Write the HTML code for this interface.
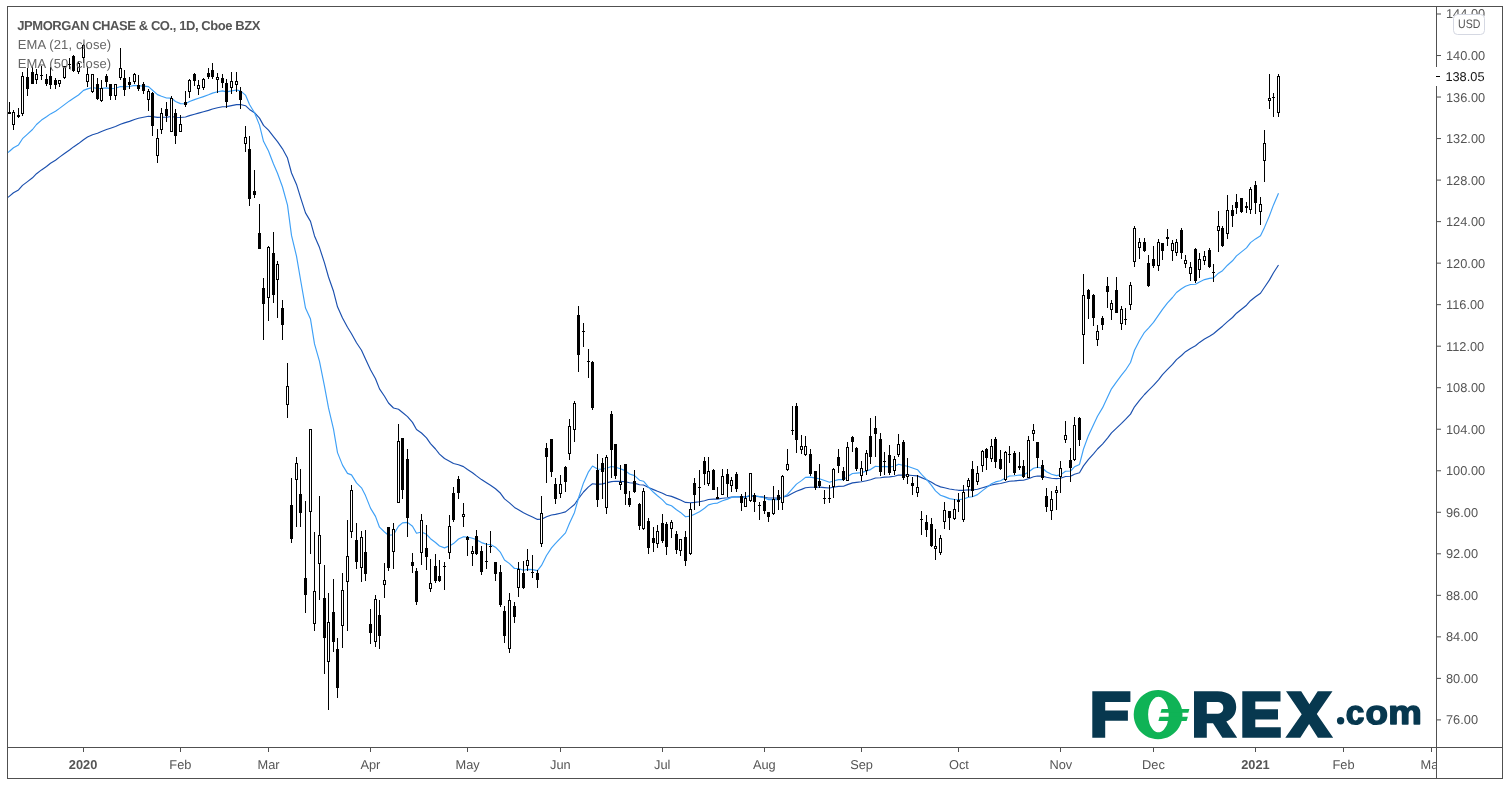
<!DOCTYPE html><html><head><meta charset="utf-8"><title>JPM chart</title><style>
html,body{margin:0;padding:0;background:#fff;}body{width:1510px;height:785px;overflow:hidden;position:relative;font-family:"Liberation Sans",sans-serif;}
svg{position:absolute;left:0;top:0;}text{font-family:"Liberation Sans",sans-serif;text-rendering:geometricPrecision;}
</style></head><body>
<svg width="1510" height="785" viewBox="0 0 1510 785" style="will-change:transform">
<rect x="0" y="0" width="1510" height="785" fill="#fff"/>
<path d="M8.0 197.4 L9.5 196.1 L13.5 192.8 L18.5 189.9 L22.5 185.4 L27.5 181.6 L32.5 177.8 L36.5 173.7 L41.5 169.9 L46.5 166.5 L50.5 163.3 L55.5 160.2 L59.5 157.1 L64.5 153.5 L69.5 150.0 L73.5 146.9 L78.5 143.6 L83.5 139.7 L87.5 137.1 L92.5 134.7 L97.5 133.3 L101.5 131.5 L106.5 129.5 L110.5 128.2 L115.5 126.5 L120.5 124.2 L124.5 122.9 L129.5 121.4 L134.5 119.5 L138.5 118.3 L143.5 117.2 L148.5 116.2 L152.5 116.6 L157.5 117.4 L161.5 117.3 L166.5 117.2 L171.5 116.5 L175.5 117.2 L180.5 117.5 L185.5 117.0 L189.5 115.6 L194.5 114.2 L198.5 113.1 L203.5 111.7 L208.5 110.4 L212.5 109.0 L217.5 107.8 L222.5 106.8 L226.5 106.6 L231.5 105.6 L236.5 104.6 L240.5 104.5 L245.5 105.7 L249.5 109.4 L254.5 112.7 L259.5 118.1 L263.5 125.4 L268.5 130.1 L273.5 136.6 L277.5 141.6 L282.5 148.8 L287.5 158.1 L291.5 173.0 L296.5 184.4 L300.5 197.3 L305.5 212.9 L310.5 221.4 L314.5 235.9 L319.5 247.6 L324.5 262.9 L328.5 277.0 L333.5 291.3 L337.5 306.8 L342.5 318.0 L347.5 327.3 L351.5 333.7 L356.5 342.7 L361.5 350.3 L365.5 359.0 L370.5 369.8 L375.5 378.8 L379.5 388.9 L384.5 396.3 L388.5 403.0 L393.5 408.0 L398.5 409.3 L402.5 412.5 L407.5 416.6 L412.5 422.4 L416.5 429.5 L421.5 433.0 L426.5 437.9 L430.5 443.6 L435.5 449.0 L439.5 454.1 L444.5 458.5 L449.5 461.2 L453.5 463.5 L458.5 464.7 L463.5 466.6 L467.5 469.5 L472.5 472.7 L476.5 475.9 L481.5 479.6 L486.5 482.8 L490.5 485.3 L495.5 488.8 L500.5 493.3 L504.5 498.9 L509.5 502.9 L514.5 507.4 L518.5 509.8 L523.5 512.8 L527.5 514.7 L532.5 517.0 L537.5 519.4 L541.5 519.2 L546.5 516.8 L551.5 515.0 L555.5 514.4 L560.5 513.2 L565.5 511.9 L569.5 508.6 L574.5 504.5 L578.5 498.6 L583.5 492.0 L588.5 486.9 L592.5 483.8 L597.5 484.4 L602.5 483.9 L606.5 482.9 L611.5 481.6 L615.5 481.3 L620.5 481.4 L625.5 481.8 L629.5 482.7 L634.5 483.1 L639.5 484.8 L643.5 485.0 L648.5 487.5 L653.5 489.6 L657.5 491.3 L662.5 493.2 L666.5 495.3 L671.5 496.4 L676.5 498.4 L680.5 500.0 L685.5 502.4 L690.5 502.7 L694.5 502.4 L699.5 501.8 L704.5 500.7 L708.5 499.5 L713.5 499.1 L717.5 499.1 L722.5 498.2 L727.5 497.7 L731.5 497.0 L736.5 496.7 L741.5 496.9 L745.5 496.9 L750.5 496.0 L754.5 496.3 L759.5 496.6 L764.5 497.2 L768.5 498.0 L773.5 498.0 L778.5 498.1 L782.5 497.2 L787.5 495.9 L792.5 493.3 L796.5 491.2 L801.5 489.4 L805.5 487.7 L810.5 487.2 L815.5 487.2 L819.5 487.1 L824.5 487.6 L829.5 488.0 L833.5 487.3 L838.5 486.4 L843.5 486.2 L847.5 484.6 L852.5 482.9 L856.5 482.4 L861.5 481.8 L866.5 480.7 L870.5 479.8 L875.5 478.0 L880.5 477.7 L884.5 477.1 L889.5 476.9 L894.5 476.3 L898.5 475.0 L903.5 475.1 L907.5 475.0 L912.5 475.5 L917.5 475.9 L921.5 477.6 L926.5 479.7 L931.5 482.3 L935.5 484.8 L940.5 486.9 L944.5 487.8 L949.5 489.0 L954.5 489.8 L958.5 490.3 L963.5 490.3 L968.5 489.9 L972.5 490.0 L977.5 489.3 L982.5 487.8 L986.5 486.6 L991.5 485.0 L995.5 484.1 L1000.5 483.5 L1005.5 482.3 L1009.5 481.2 L1014.5 480.9 L1019.5 480.4 L1023.5 480.2 L1028.5 478.7 L1033.5 476.8 L1037.5 476.0 L1042.5 476.1 L1046.5 477.3 L1051.5 478.2 L1056.5 478.6 L1060.5 478.2 L1065.5 476.5 L1070.5 476.2 L1074.5 474.2 L1079.5 472.8 L1083.5 465.9 L1088.5 459.3 L1093.5 453.8 L1097.5 449.0 L1102.5 444.1 L1107.5 438.1 L1111.5 432.8 L1116.5 428.1 L1121.5 423.4 L1125.5 419.4 L1130.5 414.1 L1134.5 406.8 L1139.5 400.4 L1144.5 394.5 L1148.5 390.3 L1153.5 385.4 L1158.5 379.8 L1162.5 374.7 L1167.5 369.4 L1172.5 364.4 L1176.5 359.6 L1181.5 355.5 L1185.5 351.7 L1190.5 348.4 L1195.5 345.8 L1199.5 342.4 L1204.5 339.0 L1209.5 336.2 L1213.5 333.7 L1218.5 329.5 L1222.5 326.2 L1227.5 321.6 L1232.5 317.5 L1236.5 313.2 L1241.5 309.2 L1246.5 305.2 L1250.5 300.7 L1255.5 296.8 L1260.5 293.2 L1264.5 287.3 L1269.5 279.9 L1273.5 272.7 L1278.5 265.0" fill="none" stroke="#1a4fae" stroke-width="1.15" stroke-linejoin="round"/>
<path d="M8.0 152.6 L9.5 151.2 L13.5 147.7 L18.5 144.9 L22.5 138.7 L27.5 134.1 L32.5 129.5 L36.5 124.5 L41.5 120.1 L46.5 116.8 L50.5 113.9 L55.5 111.2 L59.5 108.4 L64.5 104.6 L69.5 100.9 L73.5 98.2 L78.5 95.0 L83.5 90.4 L87.5 88.9 L92.5 87.5 L97.5 88.5 L101.5 88.4 L106.5 87.9 L110.5 88.6 L115.5 88.3 L120.5 86.5 L124.5 86.7 L129.5 86.5 L134.5 85.4 L138.5 85.7 L143.5 86.1 L148.5 86.6 L152.5 90.2 L157.5 94.6 L161.5 96.3 L166.5 98.0 L171.5 98.1 L175.5 101.5 L180.5 103.6 L185.5 103.7 L189.5 101.5 L194.5 99.6 L198.5 98.3 L203.5 96.6 L208.5 94.8 L212.5 93.1 L217.5 91.7 L222.5 90.9 L226.5 91.9 L231.5 90.9 L236.5 90.0 L240.5 90.9 L245.5 95.1 L249.5 104.5 L254.5 112.7 L259.5 125.1 L263.5 141.3 L268.5 151.0 L273.5 164.0 L277.5 173.2 L282.5 187.0 L287.5 205.1 L291.5 235.4 L296.5 256.2 L300.5 279.5 L305.5 308.1 L310.5 319.1 L314.5 343.9 L319.5 361.3 L324.5 386.4 L328.5 407.9 L333.5 429.1 L337.5 452.6 L342.5 465.1 L347.5 473.4 L351.5 474.9 L356.5 482.9 L361.5 487.8 L365.5 495.6 L370.5 508.1 L375.5 516.4 L379.5 527.2 L384.5 532.0 L388.5 535.2 L393.5 534.7 L398.5 526.2 L402.5 522.9 L407.5 522.4 L412.5 526.3 L416.5 533.2 L421.5 532.0 L426.5 534.3 L430.5 538.7 L435.5 542.5 L439.5 546.0 L444.5 547.9 L449.5 545.9 L453.5 543.6 L458.5 539.0 L463.5 536.7 L467.5 537.0 L472.5 538.3 L476.5 539.7 L481.5 542.6 L486.5 544.3 L490.5 544.5 L495.5 547.2 L500.5 552.4 L504.5 560.0 L509.5 563.6 L514.5 568.5 L518.5 568.5 L523.5 570.3 L527.5 569.4 L532.5 569.6 L537.5 570.6 L541.5 565.4 L546.5 555.5 L551.5 547.9 L555.5 543.4 L560.5 538.1 L565.5 532.9 L569.5 523.3 L574.5 512.4 L578.5 498.0 L583.5 482.9 L588.5 471.8 L592.5 466.0 L597.5 469.0 L602.5 469.3 L606.5 468.2 L611.5 466.5 L615.5 467.3 L620.5 468.7 L625.5 470.9 L629.5 474.0 L634.5 475.6 L639.5 480.2 L643.5 481.2 L648.5 487.2 L653.5 492.3 L657.5 495.8 L662.5 499.9 L666.5 504.1 L671.5 505.8 L676.5 509.8 L680.5 512.4 L685.5 516.8 L690.5 516.1 L694.5 514.2 L699.5 511.8 L704.5 508.3 L708.5 504.9 L713.5 503.5 L717.5 503.1 L722.5 500.7 L727.5 499.1 L731.5 497.4 L736.5 496.6 L741.5 497.2 L745.5 497.3 L750.5 495.1 L754.5 495.7 L759.5 496.6 L764.5 497.9 L768.5 499.6 L773.5 499.6 L778.5 499.6 L782.5 497.5 L787.5 494.4 L792.5 488.6 L796.5 484.1 L801.5 480.6 L805.5 477.4 L810.5 477.1 L815.5 478.1 L819.5 478.8 L824.5 480.5 L829.5 482.2 L833.5 481.0 L838.5 479.6 L843.5 479.6 L847.5 476.6 L852.5 473.5 L856.5 473.1 L861.5 472.6 L866.5 470.9 L870.5 469.6 L875.5 466.3 L880.5 466.8 L884.5 466.4 L889.5 467.0 L894.5 466.3 L898.5 464.3 L903.5 465.5 L907.5 466.2 L912.5 468.0 L917.5 469.7 L921.5 474.3 L926.5 479.3 L931.5 485.3 L935.5 490.9 L940.5 495.2 L944.5 496.6 L949.5 498.6 L954.5 499.5 L958.5 499.7 L963.5 499.0 L968.5 497.3 L972.5 496.7 L977.5 494.6 L982.5 490.6 L986.5 487.6 L991.5 483.8 L995.5 481.9 L1000.5 480.7 L1005.5 478.1 L1009.5 476.0 L1014.5 475.7 L1019.5 475.0 L1023.5 475.1 L1028.5 472.0 L1033.5 468.2 L1037.5 467.2 L1042.5 468.2 L1046.5 471.7 L1051.5 474.2 L1056.5 475.6 L1060.5 474.9 L1065.5 471.3 L1070.5 471.0 L1074.5 466.8 L1079.5 464.4 L1083.5 449.0 L1088.5 435.4 L1093.5 424.7 L1097.5 416.2 L1102.5 407.9 L1107.5 397.3 L1111.5 388.8 L1116.5 381.8 L1121.5 375.2 L1125.5 370.2 L1130.5 362.5 L1134.5 350.3 L1139.5 340.5 L1144.5 332.3 L1148.5 328.1 L1153.5 322.4 L1158.5 315.1 L1162.5 309.3 L1167.5 302.9 L1172.5 297.5 L1176.5 292.5 L1181.5 288.8 L1185.5 286.3 L1190.5 284.5 L1195.5 284.2 L1199.5 281.9 L1204.5 279.6 L1209.5 278.4 L1213.5 277.9 L1218.5 273.2 L1222.5 270.7 L1227.5 265.2 L1232.5 260.8 L1236.5 255.9 L1241.5 251.9 L1246.5 247.9 L1250.5 242.6 L1255.5 238.9 L1260.5 235.8 L1264.5 227.4 L1269.5 215.6 L1273.5 204.9 L1278.5 193.2" fill="none" stroke="#3ea0f6" stroke-width="1.15" stroke-linejoin="round"/>
<g id="candles" shape-rendering="crispEdges" fill="#000">
<rect x="9" y="102" width="1" height="12"/>
<rect x="8" y="112" width="3" height="2"/>
<rect x="13" y="110" width="1" height="20"/>
<rect x="12" y="112" width="3" height="13"/>
<rect x="13" y="113" width="1" height="11" fill="#fff"/>
<rect x="18" y="108" width="1" height="10"/>
<rect x="17" y="115" width="3" height="2"/>
<rect x="22" y="72" width="1" height="44"/>
<rect x="21" y="76" width="3" height="38"/>
<rect x="22" y="77" width="1" height="36" fill="#fff"/>
<rect x="27" y="68" width="1" height="28"/>
<rect x="26" y="77" width="3" height="12"/>
<rect x="32" y="67" width="1" height="17"/>
<rect x="31" y="72" width="3" height="12"/>
<rect x="36" y="69" width="1" height="15"/>
<rect x="35" y="74" width="3" height="6"/>
<rect x="36" y="75" width="1" height="4" fill="#fff"/>
<rect x="41" y="66" width="1" height="14"/>
<rect x="40" y="75" width="3" height="1"/>
<rect x="46" y="74" width="1" height="12"/>
<rect x="45" y="79" width="3" height="5"/>
<rect x="50" y="67" width="1" height="22"/>
<rect x="49" y="76" width="3" height="9"/>
<rect x="55" y="78" width="1" height="11"/>
<rect x="54" y="80" width="3" height="5"/>
<rect x="59" y="80" width="1" height="7"/>
<rect x="58" y="80" width="3" height="4"/>
<rect x="59" y="81" width="1" height="2" fill="#fff"/>
<rect x="64" y="66" width="1" height="13"/>
<rect x="63" y="66" width="3" height="12"/>
<rect x="64" y="67" width="1" height="10" fill="#fff"/>
<rect x="69" y="58" width="1" height="11"/>
<rect x="68" y="64" width="3" height="1"/>
<rect x="73" y="55" width="1" height="17"/>
<rect x="72" y="56" width="3" height="15"/>
<rect x="78" y="61" width="1" height="13"/>
<rect x="77" y="63" width="3" height="9"/>
<rect x="78" y="64" width="1" height="7" fill="#fff"/>
<rect x="83" y="44" width="1" height="19"/>
<rect x="82" y="45" width="3" height="13"/>
<rect x="83" y="46" width="1" height="11" fill="#fff"/>
<rect x="87" y="66" width="1" height="21"/>
<rect x="86" y="74" width="3" height="8"/>
<rect x="87" y="75" width="1" height="6" fill="#fff"/>
<rect x="92" y="74" width="1" height="19"/>
<rect x="91" y="74" width="3" height="18"/>
<rect x="92" y="75" width="1" height="16" fill="#fff"/>
<rect x="97" y="78" width="1" height="22"/>
<rect x="96" y="84" width="3" height="15"/>
<rect x="101" y="80" width="1" height="22"/>
<rect x="100" y="88" width="3" height="13"/>
<rect x="101" y="89" width="1" height="11" fill="#fff"/>
<rect x="106" y="74" width="1" height="13"/>
<rect x="105" y="76" width="3" height="6"/>
<rect x="110" y="84" width="1" height="16"/>
<rect x="109" y="84" width="3" height="12"/>
<rect x="115" y="84" width="1" height="16"/>
<rect x="114" y="84" width="3" height="12"/>
<rect x="115" y="85" width="1" height="10" fill="#fff"/>
<rect x="120" y="48" width="1" height="32"/>
<rect x="119" y="68" width="3" height="10"/>
<rect x="120" y="69" width="1" height="8" fill="#fff"/>
<rect x="124" y="70" width="1" height="26"/>
<rect x="123" y="78" width="3" height="12"/>
<rect x="129" y="77" width="1" height="12"/>
<rect x="128" y="82" width="3" height="3"/>
<rect x="134" y="73" width="1" height="11"/>
<rect x="133" y="74" width="3" height="8"/>
<rect x="134" y="75" width="1" height="6" fill="#fff"/>
<rect x="138" y="75" width="1" height="16"/>
<rect x="137" y="85" width="3" height="4"/>
<rect x="143" y="82" width="1" height="12"/>
<rect x="142" y="84" width="3" height="7"/>
<rect x="148" y="89" width="1" height="22"/>
<rect x="147" y="91" width="3" height="9"/>
<rect x="148" y="92" width="1" height="7" fill="#fff"/>
<rect x="152" y="92" width="1" height="44"/>
<rect x="151" y="93" width="3" height="33"/>
<rect x="157" y="129" width="1" height="34"/>
<rect x="156" y="138" width="3" height="18"/>
<rect x="157" y="139" width="1" height="16" fill="#fff"/>
<rect x="161" y="108" width="1" height="26"/>
<rect x="160" y="113" width="3" height="17"/>
<rect x="161" y="114" width="1" height="15" fill="#fff"/>
<rect x="166" y="102" width="1" height="20"/>
<rect x="165" y="109" width="3" height="7"/>
<rect x="171" y="96" width="1" height="36"/>
<rect x="170" y="98" width="3" height="34"/>
<rect x="171" y="99" width="1" height="32" fill="#fff"/>
<rect x="175" y="109" width="1" height="35"/>
<rect x="174" y="113" width="3" height="23"/>
<rect x="180" y="115" width="1" height="17"/>
<rect x="179" y="124" width="3" height="8"/>
<rect x="180" y="125" width="1" height="6" fill="#fff"/>
<rect x="185" y="91" width="1" height="16"/>
<rect x="184" y="102" width="3" height="3"/>
<rect x="189" y="79" width="1" height="19"/>
<rect x="188" y="80" width="3" height="12"/>
<rect x="189" y="81" width="1" height="10" fill="#fff"/>
<rect x="194" y="73" width="1" height="13"/>
<rect x="193" y="74" width="3" height="7"/>
<rect x="198" y="80" width="1" height="15"/>
<rect x="197" y="85" width="3" height="4"/>
<rect x="198" y="86" width="1" height="2" fill="#fff"/>
<rect x="203" y="78" width="1" height="12"/>
<rect x="202" y="79" width="3" height="9"/>
<rect x="203" y="80" width="1" height="7" fill="#fff"/>
<rect x="208" y="68" width="1" height="11"/>
<rect x="207" y="73" width="3" height="4"/>
<rect x="212" y="63" width="1" height="16"/>
<rect x="211" y="70" width="3" height="7"/>
<rect x="217" y="73" width="1" height="20"/>
<rect x="216" y="77" width="3" height="3"/>
<rect x="217" y="78" width="1" height="1" fill="#fff"/>
<rect x="222" y="74" width="1" height="14"/>
<rect x="221" y="78" width="3" height="5"/>
<rect x="226" y="79" width="1" height="29"/>
<rect x="225" y="83" width="3" height="19"/>
<rect x="231" y="72" width="1" height="22"/>
<rect x="230" y="81" width="3" height="7"/>
<rect x="231" y="82" width="1" height="5" fill="#fff"/>
<rect x="236" y="72" width="1" height="20"/>
<rect x="235" y="81" width="3" height="4"/>
<rect x="236" y="82" width="1" height="2" fill="#fff"/>
<rect x="240" y="87" width="1" height="22"/>
<rect x="239" y="91" width="3" height="9"/>
<rect x="245" y="126" width="1" height="26"/>
<rect x="244" y="137" width="3" height="7"/>
<rect x="245" y="138" width="1" height="5" fill="#fff"/>
<rect x="249" y="136" width="1" height="70"/>
<rect x="248" y="149" width="3" height="50"/>
<rect x="254" y="170" width="1" height="28"/>
<rect x="253" y="191" width="3" height="4"/>
<rect x="259" y="204" width="1" height="45"/>
<rect x="258" y="233" width="3" height="16"/>
<rect x="263" y="278" width="1" height="62"/>
<rect x="262" y="288" width="3" height="16"/>
<rect x="268" y="246" width="1" height="75"/>
<rect x="267" y="247" width="3" height="51"/>
<rect x="268" y="248" width="1" height="49" fill="#fff"/>
<rect x="273" y="232" width="1" height="71"/>
<rect x="272" y="253" width="3" height="42"/>
<rect x="277" y="261" width="1" height="57"/>
<rect x="276" y="264" width="3" height="16"/>
<rect x="277" y="265" width="1" height="14" fill="#fff"/>
<rect x="282" y="300" width="1" height="40"/>
<rect x="281" y="308" width="3" height="17"/>
<rect x="287" y="363" width="1" height="55"/>
<rect x="286" y="386" width="3" height="19"/>
<rect x="287" y="387" width="1" height="17" fill="#fff"/>
<rect x="291" y="478" width="1" height="65"/>
<rect x="290" y="505" width="3" height="34"/>
<rect x="296" y="457" width="1" height="70"/>
<rect x="295" y="463" width="3" height="17"/>
<rect x="296" y="464" width="1" height="15" fill="#fff"/>
<rect x="300" y="469" width="1" height="58"/>
<rect x="299" y="494" width="3" height="19"/>
<rect x="305" y="501" width="1" height="112"/>
<rect x="304" y="578" width="3" height="17"/>
<rect x="310" y="429" width="1" height="125"/>
<rect x="309" y="429" width="3" height="83"/>
<rect x="310" y="430" width="1" height="81" fill="#fff"/>
<rect x="314" y="532" width="1" height="99"/>
<rect x="313" y="591" width="3" height="33"/>
<rect x="314" y="592" width="1" height="31" fill="#fff"/>
<rect x="319" y="496" width="1" height="104"/>
<rect x="318" y="535" width="3" height="29"/>
<rect x="319" y="536" width="1" height="27" fill="#fff"/>
<rect x="324" y="565" width="1" height="109"/>
<rect x="323" y="598" width="3" height="40"/>
<rect x="328" y="593" width="1" height="117"/>
<rect x="327" y="622" width="3" height="40"/>
<rect x="328" y="623" width="1" height="38" fill="#fff"/>
<rect x="333" y="579" width="1" height="73"/>
<rect x="332" y="612" width="3" height="30"/>
<rect x="337" y="638" width="1" height="60"/>
<rect x="336" y="649" width="3" height="39"/>
<rect x="342" y="573" width="1" height="75"/>
<rect x="341" y="590" width="3" height="36"/>
<rect x="342" y="591" width="1" height="34" fill="#fff"/>
<rect x="347" y="520" width="1" height="111"/>
<rect x="346" y="556" width="3" height="26"/>
<rect x="347" y="557" width="1" height="24" fill="#fff"/>
<rect x="351" y="485" width="1" height="53"/>
<rect x="350" y="490" width="3" height="42"/>
<rect x="351" y="491" width="1" height="40" fill="#fff"/>
<rect x="356" y="523" width="1" height="46"/>
<rect x="355" y="540" width="3" height="22"/>
<rect x="361" y="531" width="1" height="51"/>
<rect x="360" y="537" width="3" height="31"/>
<rect x="361" y="538" width="1" height="29" fill="#fff"/>
<rect x="365" y="530" width="1" height="51"/>
<rect x="364" y="552" width="3" height="22"/>
<rect x="370" y="609" width="1" height="35"/>
<rect x="369" y="624" width="3" height="9"/>
<rect x="375" y="595" width="1" height="52"/>
<rect x="374" y="599" width="3" height="43"/>
<rect x="375" y="600" width="1" height="41" fill="#fff"/>
<rect x="379" y="600" width="1" height="49"/>
<rect x="378" y="615" width="3" height="21"/>
<rect x="384" y="563" width="1" height="35"/>
<rect x="383" y="580" width="3" height="5"/>
<rect x="384" y="581" width="1" height="3" fill="#fff"/>
<rect x="388" y="527" width="1" height="44"/>
<rect x="387" y="527" width="3" height="41"/>
<rect x="393" y="523" width="1" height="46"/>
<rect x="392" y="529" width="3" height="23"/>
<rect x="393" y="530" width="1" height="21" fill="#fff"/>
<rect x="398" y="424" width="1" height="79"/>
<rect x="397" y="441" width="3" height="62"/>
<rect x="398" y="442" width="1" height="60" fill="#fff"/>
<rect x="402" y="438" width="1" height="61"/>
<rect x="401" y="438" width="3" height="52"/>
<rect x="407" y="449" width="1" height="88"/>
<rect x="406" y="459" width="3" height="59"/>
<rect x="412" y="553" width="1" height="20"/>
<rect x="411" y="562" width="3" height="4"/>
<rect x="416" y="568" width="1" height="37"/>
<rect x="415" y="571" width="3" height="31"/>
<rect x="421" y="514" width="1" height="51"/>
<rect x="420" y="520" width="3" height="33"/>
<rect x="421" y="521" width="1" height="31" fill="#fff"/>
<rect x="426" y="525" width="1" height="45"/>
<rect x="425" y="548" width="3" height="9"/>
<rect x="430" y="559" width="1" height="33"/>
<rect x="429" y="583" width="3" height="6"/>
<rect x="430" y="584" width="1" height="4" fill="#fff"/>
<rect x="435" y="554" width="1" height="29"/>
<rect x="434" y="566" width="3" height="15"/>
<rect x="439" y="560" width="1" height="22"/>
<rect x="438" y="576" width="3" height="5"/>
<rect x="444" y="562" width="1" height="28"/>
<rect x="443" y="566" width="3" height="1"/>
<rect x="449" y="515" width="1" height="44"/>
<rect x="448" y="526" width="3" height="27"/>
<rect x="449" y="527" width="1" height="25" fill="#fff"/>
<rect x="453" y="487" width="1" height="35"/>
<rect x="452" y="493" width="3" height="27"/>
<rect x="458" y="476" width="1" height="23"/>
<rect x="457" y="479" width="3" height="14"/>
<rect x="463" y="503" width="1" height="24"/>
<rect x="462" y="514" width="3" height="3"/>
<rect x="463" y="515" width="1" height="1" fill="#fff"/>
<rect x="467" y="536" width="1" height="20"/>
<rect x="466" y="537" width="3" height="3"/>
<rect x="472" y="546" width="1" height="20"/>
<rect x="471" y="551" width="3" height="3"/>
<rect x="472" y="552" width="1" height="1" fill="#fff"/>
<rect x="476" y="530" width="1" height="25"/>
<rect x="475" y="536" width="3" height="18"/>
<rect x="481" y="546" width="1" height="29"/>
<rect x="480" y="551" width="3" height="21"/>
<rect x="486" y="543" width="1" height="26"/>
<rect x="485" y="561" width="3" height="1"/>
<rect x="490" y="531" width="1" height="22"/>
<rect x="489" y="546" width="3" height="1"/>
<rect x="495" y="562" width="1" height="19"/>
<rect x="494" y="562" width="3" height="12"/>
<rect x="500" y="565" width="1" height="42"/>
<rect x="499" y="572" width="3" height="33"/>
<rect x="504" y="606" width="1" height="37"/>
<rect x="503" y="611" width="3" height="25"/>
<rect x="509" y="593" width="1" height="60"/>
<rect x="508" y="600" width="3" height="49"/>
<rect x="509" y="601" width="1" height="47" fill="#fff"/>
<rect x="514" y="602" width="1" height="21"/>
<rect x="513" y="606" width="3" height="11"/>
<rect x="518" y="562" width="1" height="35"/>
<rect x="517" y="569" width="3" height="19"/>
<rect x="518" y="570" width="1" height="17" fill="#fff"/>
<rect x="523" y="561" width="1" height="28"/>
<rect x="522" y="573" width="3" height="15"/>
<rect x="527" y="549" width="1" height="22"/>
<rect x="526" y="560" width="3" height="6"/>
<rect x="527" y="561" width="1" height="4" fill="#fff"/>
<rect x="532" y="555" width="1" height="23"/>
<rect x="531" y="572" width="3" height="1"/>
<rect x="537" y="570" width="1" height="18"/>
<rect x="536" y="573" width="3" height="7"/>
<rect x="541" y="496" width="1" height="51"/>
<rect x="540" y="513" width="3" height="31"/>
<rect x="541" y="514" width="1" height="29" fill="#fff"/>
<rect x="546" y="443" width="1" height="40"/>
<rect x="545" y="448" width="3" height="9"/>
<rect x="551" y="439" width="1" height="38"/>
<rect x="550" y="439" width="3" height="33"/>
<rect x="555" y="478" width="1" height="26"/>
<rect x="554" y="484" width="3" height="15"/>
<rect x="560" y="475" width="1" height="23"/>
<rect x="559" y="484" width="3" height="10"/>
<rect x="560" y="485" width="1" height="8" fill="#fff"/>
<rect x="565" y="466" width="1" height="26"/>
<rect x="564" y="467" width="3" height="15"/>
<rect x="569" y="419" width="1" height="41"/>
<rect x="568" y="426" width="3" height="28"/>
<rect x="569" y="427" width="1" height="26" fill="#fff"/>
<rect x="574" y="401" width="1" height="41"/>
<rect x="573" y="403" width="3" height="27"/>
<rect x="574" y="404" width="1" height="25" fill="#fff"/>
<rect x="578" y="306" width="1" height="66"/>
<rect x="577" y="315" width="3" height="40"/>
<rect x="583" y="323" width="1" height="24"/>
<rect x="582" y="331" width="3" height="1"/>
<rect x="588" y="349" width="1" height="29"/>
<rect x="587" y="361" width="3" height="1"/>
<rect x="592" y="361" width="1" height="49"/>
<rect x="591" y="362" width="3" height="46"/>
<rect x="597" y="454" width="1" height="53"/>
<rect x="596" y="470" width="3" height="30"/>
<rect x="602" y="458" width="1" height="41"/>
<rect x="601" y="463" width="3" height="9"/>
<rect x="606" y="455" width="1" height="59"/>
<rect x="605" y="457" width="3" height="51"/>
<rect x="606" y="458" width="1" height="49" fill="#fff"/>
<rect x="611" y="411" width="1" height="67"/>
<rect x="610" y="414" width="3" height="36"/>
<rect x="615" y="444" width="1" height="35"/>
<rect x="614" y="444" width="3" height="32"/>
<rect x="620" y="465" width="1" height="25"/>
<rect x="619" y="482" width="3" height="3"/>
<rect x="620" y="483" width="1" height="1" fill="#fff"/>
<rect x="625" y="464" width="1" height="41"/>
<rect x="624" y="464" width="3" height="30"/>
<rect x="629" y="491" width="1" height="16"/>
<rect x="628" y="498" width="3" height="7"/>
<rect x="634" y="470" width="1" height="23"/>
<rect x="633" y="481" width="3" height="11"/>
<rect x="639" y="503" width="1" height="27"/>
<rect x="638" y="504" width="3" height="22"/>
<rect x="643" y="488" width="1" height="42"/>
<rect x="642" y="491" width="3" height="38"/>
<rect x="643" y="492" width="1" height="36" fill="#fff"/>
<rect x="648" y="518" width="1" height="36"/>
<rect x="647" y="521" width="3" height="27"/>
<rect x="653" y="527" width="1" height="25"/>
<rect x="652" y="538" width="3" height="5"/>
<rect x="657" y="525" width="1" height="23"/>
<rect x="656" y="531" width="3" height="13"/>
<rect x="657" y="532" width="1" height="11" fill="#fff"/>
<rect x="662" y="514" width="1" height="29"/>
<rect x="661" y="523" width="3" height="18"/>
<rect x="666" y="522" width="1" height="33"/>
<rect x="665" y="524" width="3" height="23"/>
<rect x="671" y="520" width="1" height="18"/>
<rect x="670" y="522" width="3" height="7"/>
<rect x="671" y="523" width="1" height="5" fill="#fff"/>
<rect x="676" y="531" width="1" height="23"/>
<rect x="675" y="534" width="3" height="16"/>
<rect x="680" y="539" width="1" height="17"/>
<rect x="679" y="539" width="3" height="12"/>
<rect x="680" y="540" width="1" height="10" fill="#fff"/>
<rect x="685" y="531" width="1" height="35"/>
<rect x="684" y="537" width="3" height="24"/>
<rect x="690" y="503" width="1" height="52"/>
<rect x="689" y="509" width="3" height="45"/>
<rect x="690" y="510" width="1" height="43" fill="#fff"/>
<rect x="694" y="478" width="1" height="32"/>
<rect x="693" y="483" width="3" height="12"/>
<rect x="699" y="470" width="1" height="36"/>
<rect x="698" y="487" width="3" height="1"/>
<rect x="704" y="457" width="1" height="28"/>
<rect x="703" y="461" width="3" height="13"/>
<rect x="708" y="457" width="1" height="29"/>
<rect x="707" y="471" width="3" height="13"/>
<rect x="708" y="472" width="1" height="11" fill="#fff"/>
<rect x="713" y="469" width="1" height="21"/>
<rect x="712" y="470" width="3" height="20"/>
<rect x="717" y="487" width="1" height="12"/>
<rect x="716" y="497" width="3" height="2"/>
<rect x="722" y="469" width="1" height="26"/>
<rect x="721" y="476" width="3" height="19"/>
<rect x="722" y="477" width="1" height="17" fill="#fff"/>
<rect x="727" y="469" width="1" height="28"/>
<rect x="726" y="474" width="3" height="10"/>
<rect x="731" y="477" width="1" height="15"/>
<rect x="730" y="480" width="3" height="6"/>
<rect x="731" y="481" width="1" height="4" fill="#fff"/>
<rect x="736" y="472" width="1" height="20"/>
<rect x="735" y="474" width="3" height="15"/>
<rect x="741" y="494" width="1" height="17"/>
<rect x="740" y="496" width="3" height="7"/>
<rect x="745" y="492" width="1" height="15"/>
<rect x="744" y="498" width="3" height="9"/>
<rect x="745" y="499" width="1" height="7" fill="#fff"/>
<rect x="750" y="473" width="1" height="29"/>
<rect x="749" y="473" width="3" height="28"/>
<rect x="750" y="474" width="1" height="26" fill="#fff"/>
<rect x="754" y="493" width="1" height="19"/>
<rect x="753" y="495" width="3" height="7"/>
<rect x="759" y="502" width="1" height="18"/>
<rect x="758" y="505" width="3" height="1"/>
<rect x="764" y="495" width="1" height="19"/>
<rect x="763" y="501" width="3" height="10"/>
<rect x="768" y="512" width="1" height="10"/>
<rect x="767" y="512" width="3" height="5"/>
<rect x="773" y="486" width="1" height="29"/>
<rect x="772" y="499" width="3" height="15"/>
<rect x="773" y="500" width="1" height="13" fill="#fff"/>
<rect x="778" y="490" width="1" height="20"/>
<rect x="777" y="495" width="3" height="5"/>
<rect x="782" y="475" width="1" height="35"/>
<rect x="781" y="476" width="3" height="27"/>
<rect x="782" y="477" width="1" height="25" fill="#fff"/>
<rect x="787" y="449" width="1" height="22"/>
<rect x="786" y="464" width="3" height="6"/>
<rect x="787" y="465" width="1" height="4" fill="#fff"/>
<rect x="792" y="406" width="1" height="29"/>
<rect x="791" y="430" width="3" height="1"/>
<rect x="796" y="403" width="1" height="50"/>
<rect x="795" y="406" width="3" height="34"/>
<rect x="801" y="435" width="1" height="19"/>
<rect x="800" y="446" width="3" height="4"/>
<rect x="801" y="447" width="1" height="2" fill="#fff"/>
<rect x="805" y="436" width="1" height="20"/>
<rect x="804" y="446" width="3" height="9"/>
<rect x="805" y="447" width="1" height="7" fill="#fff"/>
<rect x="810" y="449" width="1" height="27"/>
<rect x="809" y="454" width="3" height="20"/>
<rect x="815" y="471" width="1" height="19"/>
<rect x="814" y="471" width="3" height="17"/>
<rect x="819" y="464" width="1" height="24"/>
<rect x="818" y="481" width="3" height="5"/>
<rect x="824" y="490" width="1" height="14"/>
<rect x="823" y="498" width="3" height="1"/>
<rect x="829" y="485" width="1" height="18"/>
<rect x="828" y="498" width="3" height="1"/>
<rect x="833" y="468" width="1" height="30"/>
<rect x="832" y="469" width="3" height="18"/>
<rect x="833" y="470" width="1" height="16" fill="#fff"/>
<rect x="838" y="449" width="1" height="24"/>
<rect x="837" y="457" width="3" height="9"/>
<rect x="843" y="467" width="1" height="14"/>
<rect x="842" y="471" width="3" height="9"/>
<rect x="847" y="442" width="1" height="39"/>
<rect x="846" y="447" width="3" height="34"/>
<rect x="847" y="448" width="1" height="32" fill="#fff"/>
<rect x="852" y="436" width="1" height="16"/>
<rect x="851" y="437" width="3" height="5"/>
<rect x="856" y="447" width="1" height="24"/>
<rect x="855" y="448" width="3" height="21"/>
<rect x="861" y="461" width="1" height="20"/>
<rect x="860" y="468" width="3" height="8"/>
<rect x="861" y="469" width="1" height="6" fill="#fff"/>
<rect x="866" y="450" width="1" height="25"/>
<rect x="865" y="453" width="3" height="18"/>
<rect x="866" y="454" width="1" height="16" fill="#fff"/>
<rect x="870" y="418" width="1" height="46"/>
<rect x="869" y="436" width="3" height="21"/>
<rect x="875" y="416" width="1" height="41"/>
<rect x="874" y="428" width="3" height="6"/>
<rect x="880" y="433" width="1" height="43"/>
<rect x="879" y="439" width="3" height="33"/>
<rect x="884" y="452" width="1" height="23"/>
<rect x="883" y="461" width="3" height="1"/>
<rect x="889" y="445" width="1" height="30"/>
<rect x="888" y="455" width="3" height="18"/>
<rect x="894" y="456" width="1" height="19"/>
<rect x="893" y="459" width="3" height="12"/>
<rect x="894" y="460" width="1" height="10" fill="#fff"/>
<rect x="898" y="434" width="1" height="23"/>
<rect x="897" y="444" width="3" height="11"/>
<rect x="898" y="445" width="1" height="9" fill="#fff"/>
<rect x="903" y="440" width="1" height="40"/>
<rect x="902" y="442" width="3" height="36"/>
<rect x="907" y="458" width="1" height="26"/>
<rect x="906" y="474" width="3" height="3"/>
<rect x="907" y="475" width="1" height="1" fill="#fff"/>
<rect x="912" y="477" width="1" height="18"/>
<rect x="911" y="483" width="3" height="3"/>
<rect x="917" y="475" width="1" height="22"/>
<rect x="916" y="487" width="3" height="6"/>
<rect x="917" y="488" width="1" height="4" fill="#fff"/>
<rect x="921" y="511" width="1" height="24"/>
<rect x="920" y="519" width="3" height="1"/>
<rect x="926" y="515" width="1" height="22"/>
<rect x="925" y="522" width="3" height="8"/>
<rect x="931" y="518" width="1" height="29"/>
<rect x="930" y="524" width="3" height="22"/>
<rect x="935" y="529" width="1" height="31"/>
<rect x="934" y="546" width="3" height="3"/>
<rect x="935" y="547" width="1" height="1" fill="#fff"/>
<rect x="940" y="535" width="1" height="20"/>
<rect x="939" y="538" width="3" height="15"/>
<rect x="940" y="539" width="1" height="13" fill="#fff"/>
<rect x="944" y="502" width="1" height="27"/>
<rect x="943" y="510" width="3" height="12"/>
<rect x="944" y="511" width="1" height="10" fill="#fff"/>
<rect x="949" y="511" width="1" height="19"/>
<rect x="948" y="511" width="3" height="7"/>
<rect x="954" y="499" width="1" height="21"/>
<rect x="953" y="509" width="3" height="10"/>
<rect x="954" y="510" width="1" height="8" fill="#fff"/>
<rect x="958" y="493" width="1" height="19"/>
<rect x="957" y="500" width="3" height="2"/>
<rect x="963" y="485" width="1" height="37"/>
<rect x="962" y="492" width="3" height="28"/>
<rect x="963" y="493" width="1" height="26" fill="#fff"/>
<rect x="968" y="478" width="1" height="19"/>
<rect x="967" y="480" width="3" height="7"/>
<rect x="968" y="481" width="1" height="5" fill="#fff"/>
<rect x="972" y="461" width="1" height="36"/>
<rect x="971" y="469" width="3" height="22"/>
<rect x="977" y="466" width="1" height="19"/>
<rect x="976" y="473" width="3" height="9"/>
<rect x="977" y="474" width="1" height="7" fill="#fff"/>
<rect x="982" y="450" width="1" height="22"/>
<rect x="981" y="451" width="3" height="15"/>
<rect x="982" y="452" width="1" height="13" fill="#fff"/>
<rect x="986" y="448" width="1" height="22"/>
<rect x="985" y="449" width="3" height="9"/>
<rect x="991" y="439" width="1" height="23"/>
<rect x="990" y="446" width="3" height="13"/>
<rect x="991" y="447" width="1" height="11" fill="#fff"/>
<rect x="995" y="437" width="1" height="31"/>
<rect x="994" y="439" width="3" height="23"/>
<rect x="1000" y="450" width="1" height="20"/>
<rect x="999" y="459" width="3" height="10"/>
<rect x="1005" y="451" width="1" height="30"/>
<rect x="1004" y="452" width="3" height="28"/>
<rect x="1005" y="453" width="1" height="26" fill="#fff"/>
<rect x="1009" y="446" width="1" height="17"/>
<rect x="1008" y="454" width="3" height="1"/>
<rect x="1014" y="451" width="1" height="24"/>
<rect x="1013" y="453" width="3" height="20"/>
<rect x="1019" y="452" width="1" height="18"/>
<rect x="1018" y="466" width="3" height="2"/>
<rect x="1023" y="460" width="1" height="18"/>
<rect x="1022" y="466" width="3" height="11"/>
<rect x="1028" y="436" width="1" height="42"/>
<rect x="1027" y="440" width="3" height="38"/>
<rect x="1028" y="441" width="1" height="36" fill="#fff"/>
<rect x="1033" y="424" width="1" height="17"/>
<rect x="1032" y="430" width="3" height="4"/>
<rect x="1033" y="431" width="1" height="2" fill="#fff"/>
<rect x="1037" y="442" width="1" height="26"/>
<rect x="1036" y="442" width="3" height="16"/>
<rect x="1042" y="460" width="1" height="20"/>
<rect x="1041" y="465" width="3" height="13"/>
<rect x="1046" y="488" width="1" height="24"/>
<rect x="1045" y="496" width="3" height="11"/>
<rect x="1051" y="491" width="1" height="29"/>
<rect x="1050" y="499" width="3" height="12"/>
<rect x="1051" y="500" width="1" height="10" fill="#fff"/>
<rect x="1056" y="486" width="1" height="24"/>
<rect x="1055" y="490" width="3" height="3"/>
<rect x="1056" y="491" width="1" height="1" fill="#fff"/>
<rect x="1060" y="461" width="1" height="32"/>
<rect x="1059" y="468" width="3" height="9"/>
<rect x="1060" y="469" width="1" height="7" fill="#fff"/>
<rect x="1065" y="421" width="1" height="22"/>
<rect x="1064" y="435" width="3" height="5"/>
<rect x="1065" y="436" width="1" height="3" fill="#fff"/>
<rect x="1070" y="448" width="1" height="34"/>
<rect x="1069" y="460" width="3" height="8"/>
<rect x="1074" y="417" width="1" height="44"/>
<rect x="1073" y="425" width="3" height="35"/>
<rect x="1074" y="426" width="1" height="33" fill="#fff"/>
<rect x="1079" y="417" width="1" height="29"/>
<rect x="1078" y="418" width="3" height="22"/>
<rect x="1083" y="274" width="1" height="90"/>
<rect x="1082" y="295" width="3" height="40"/>
<rect x="1083" y="296" width="1" height="38" fill="#fff"/>
<rect x="1088" y="289" width="1" height="30"/>
<rect x="1087" y="290" width="3" height="9"/>
<rect x="1093" y="294" width="1" height="32"/>
<rect x="1092" y="295" width="3" height="23"/>
<rect x="1097" y="325" width="1" height="21"/>
<rect x="1096" y="331" width="3" height="9"/>
<rect x="1097" y="332" width="1" height="7" fill="#fff"/>
<rect x="1102" y="316" width="1" height="14"/>
<rect x="1101" y="318" width="3" height="7"/>
<rect x="1107" y="277" width="1" height="31"/>
<rect x="1106" y="286" width="3" height="6"/>
<rect x="1111" y="300" width="1" height="20"/>
<rect x="1110" y="303" width="3" height="7"/>
<rect x="1111" y="304" width="1" height="5" fill="#fff"/>
<rect x="1116" y="277" width="1" height="36"/>
<rect x="1115" y="290" width="3" height="23"/>
<rect x="1121" y="306" width="1" height="24"/>
<rect x="1120" y="309" width="3" height="15"/>
<rect x="1121" y="310" width="1" height="13" fill="#fff"/>
<rect x="1125" y="308" width="1" height="17"/>
<rect x="1124" y="319" width="3" height="1"/>
<rect x="1130" y="282" width="1" height="28"/>
<rect x="1129" y="285" width="3" height="20"/>
<rect x="1130" y="286" width="1" height="18" fill="#fff"/>
<rect x="1134" y="226" width="1" height="41"/>
<rect x="1133" y="228" width="3" height="34"/>
<rect x="1134" y="229" width="1" height="32" fill="#fff"/>
<rect x="1139" y="238" width="1" height="21"/>
<rect x="1138" y="242" width="3" height="6"/>
<rect x="1139" y="243" width="1" height="4" fill="#fff"/>
<rect x="1144" y="238" width="1" height="14"/>
<rect x="1143" y="242" width="3" height="9"/>
<rect x="1148" y="255" width="1" height="32"/>
<rect x="1147" y="263" width="3" height="23"/>
<rect x="1153" y="246" width="1" height="22"/>
<rect x="1152" y="259" width="3" height="7"/>
<rect x="1158" y="239" width="1" height="32"/>
<rect x="1157" y="242" width="3" height="24"/>
<rect x="1158" y="243" width="1" height="22" fill="#fff"/>
<rect x="1162" y="243" width="1" height="17"/>
<rect x="1161" y="243" width="3" height="8"/>
<rect x="1167" y="229" width="1" height="17"/>
<rect x="1166" y="237" width="3" height="2"/>
<rect x="1172" y="240" width="1" height="21"/>
<rect x="1171" y="243" width="3" height="8"/>
<rect x="1172" y="244" width="1" height="6" fill="#fff"/>
<rect x="1176" y="239" width="1" height="17"/>
<rect x="1175" y="242" width="3" height="11"/>
<rect x="1176" y="243" width="1" height="9" fill="#fff"/>
<rect x="1181" y="228" width="1" height="31"/>
<rect x="1180" y="230" width="3" height="23"/>
<rect x="1185" y="255" width="1" height="13"/>
<rect x="1184" y="260" width="3" height="4"/>
<rect x="1185" y="261" width="1" height="2" fill="#fff"/>
<rect x="1190" y="262" width="1" height="19"/>
<rect x="1189" y="267" width="3" height="7"/>
<rect x="1190" y="268" width="1" height="5" fill="#fff"/>
<rect x="1195" y="248" width="1" height="35"/>
<rect x="1194" y="249" width="3" height="32"/>
<rect x="1199" y="253" width="1" height="25"/>
<rect x="1198" y="259" width="3" height="11"/>
<rect x="1199" y="260" width="1" height="9" fill="#fff"/>
<rect x="1204" y="251" width="1" height="14"/>
<rect x="1203" y="256" width="3" height="5"/>
<rect x="1204" y="257" width="1" height="3" fill="#fff"/>
<rect x="1209" y="248" width="1" height="20"/>
<rect x="1208" y="250" width="3" height="17"/>
<rect x="1213" y="264" width="1" height="18"/>
<rect x="1212" y="272" width="3" height="1"/>
<rect x="1218" y="211" width="1" height="41"/>
<rect x="1217" y="226" width="3" height="5"/>
<rect x="1218" y="227" width="1" height="3" fill="#fff"/>
<rect x="1222" y="226" width="1" height="21"/>
<rect x="1221" y="228" width="3" height="18"/>
<rect x="1227" y="195" width="1" height="44"/>
<rect x="1226" y="210" width="3" height="24"/>
<rect x="1227" y="211" width="1" height="22" fill="#fff"/>
<rect x="1232" y="205" width="1" height="22"/>
<rect x="1231" y="210" width="3" height="6"/>
<rect x="1236" y="194" width="1" height="20"/>
<rect x="1235" y="202" width="3" height="6"/>
<rect x="1241" y="198" width="1" height="15"/>
<rect x="1240" y="198" width="3" height="14"/>
<rect x="1246" y="202" width="1" height="11"/>
<rect x="1245" y="206" width="3" height="2"/>
<rect x="1250" y="187" width="1" height="27"/>
<rect x="1249" y="189" width="3" height="21"/>
<rect x="1250" y="190" width="1" height="19" fill="#fff"/>
<rect x="1255" y="181" width="1" height="33"/>
<rect x="1254" y="185" width="3" height="18"/>
<rect x="1260" y="197" width="1" height="28"/>
<rect x="1259" y="204" width="3" height="8"/>
<rect x="1260" y="205" width="1" height="6" fill="#fff"/>
<rect x="1264" y="130" width="1" height="52"/>
<rect x="1263" y="143" width="3" height="18"/>
<rect x="1264" y="144" width="1" height="16" fill="#fff"/>
<rect x="1269" y="74" width="1" height="35"/>
<rect x="1268" y="98" width="3" height="3"/>
<rect x="1269" y="99" width="1" height="1" fill="#fff"/>
<rect x="1273" y="93" width="1" height="24"/>
<rect x="1272" y="97" width="3" height="1"/>
<rect x="1278" y="74" width="1" height="43"/>
<rect x="1277" y="76" width="3" height="37"/>
<rect x="1278" y="77" width="1" height="35" fill="#fff"/>
</g>
<text x="17.2" y="30.2" font-size="13" font-weight="bold" fill="#555" textLength="243.3" lengthAdjust="spacing">JPMORGAN CHASE &amp; CO., 1D, Cboe BZX</text>
<text x="17.7" y="49.1" font-size="13" fill="#666" textLength="93.5" lengthAdjust="spacing">EMA (21, close)</text>
<text x="17.7" y="68.1" font-size="13" fill="#666" textLength="93.5" lengthAdjust="spacing">EMA (50, close)</text>
<g shape-rendering="crispEdges" fill="#505050">
<rect x="7" y="6" width="1496" height="1"/>
<rect x="7" y="778" width="1496" height="1"/>
<rect x="7" y="6" width="1" height="773"/>
<rect x="1502" y="6" width="1" height="773"/>
<rect x="1436" y="6" width="1" height="773"/>
<rect x="7" y="747" width="1496" height="1"/>
<rect x="1437" y="719.40" width="4" height="1" shape-rendering="auto"/>
<rect x="1437" y="677.88" width="4" height="1" shape-rendering="auto"/>
<rect x="1437" y="636.35" width="4" height="1" shape-rendering="auto"/>
<rect x="1437" y="594.83" width="4" height="1" shape-rendering="auto"/>
<rect x="1437" y="553.30" width="4" height="1" shape-rendering="auto"/>
<rect x="1437" y="511.78" width="4" height="1" shape-rendering="auto"/>
<rect x="1437" y="470.26" width="4" height="1" shape-rendering="auto"/>
<rect x="1437" y="428.73" width="4" height="1" shape-rendering="auto"/>
<rect x="1437" y="387.21" width="4" height="1" shape-rendering="auto"/>
<rect x="1437" y="345.68" width="4" height="1" shape-rendering="auto"/>
<rect x="1437" y="304.16" width="4" height="1" shape-rendering="auto"/>
<rect x="1437" y="262.64" width="4" height="1" shape-rendering="auto"/>
<rect x="1437" y="221.11" width="4" height="1" shape-rendering="auto"/>
<rect x="1437" y="179.59" width="4" height="1" shape-rendering="auto"/>
<rect x="1437" y="138.06" width="4" height="1" shape-rendering="auto"/>
<rect x="1437" y="96.54" width="4" height="1" shape-rendering="auto"/>
<rect x="1437" y="55.02" width="4" height="1" shape-rendering="auto"/>
<rect x="1437" y="13.49" width="4" height="1" shape-rendering="auto"/>
<rect x="83" y="748" width="1" height="4"/>
<rect x="180" y="748" width="1" height="4"/>
<rect x="268" y="748" width="1" height="4"/>
<rect x="370" y="748" width="1" height="4"/>
<rect x="467" y="748" width="1" height="4"/>
<rect x="560" y="748" width="1" height="4"/>
<rect x="662" y="748" width="1" height="4"/>
<rect x="764" y="748" width="1" height="4"/>
<rect x="861" y="748" width="1" height="4"/>
<rect x="958" y="748" width="1" height="4"/>
<rect x="1060" y="748" width="1" height="4"/>
<rect x="1153" y="748" width="1" height="4"/>
<rect x="1255" y="748" width="1" height="4"/>
<rect x="1343" y="748" width="1" height="4"/>
<rect x="1431" y="748" width="1" height="4"/>
</g>
<rect x="1436" y="67" width="60" height="19" fill="#fff"/>
<rect x="1436" y="76" width="4" height="1" fill="#000" shape-rendering="crispEdges"/>
<g font-size="12.8" fill="#555">
<text x="1446" y="724.4">76.00</text>
<text x="1446" y="682.8">80.00</text>
<text x="1446" y="641.3">84.00</text>
<text x="1446" y="599.8">88.00</text>
<text x="1446" y="558.3">92.00</text>
<text x="1446" y="516.7">96.00</text>
<text x="1446" y="475.2">100.00</text>
<text x="1446" y="433.7">104.00</text>
<text x="1446" y="392.2">108.00</text>
<text x="1446" y="350.6">112.00</text>
<text x="1446" y="309.1">116.00</text>
<text x="1446" y="267.6">120.00</text>
<text x="1446" y="226.1">124.00</text>
<text x="1446" y="184.5">128.00</text>
<text x="1446" y="143.0">132.00</text>
<text x="1446" y="101.5">136.00</text>
<text x="1446" y="60.0">140.00</text>
<text x="1446" y="18.4">144.00</text>
</g>
<text x="1445.4" y="81.3" font-size="12.8" fill="#151515">138.05</text>
<rect x="1453.5" y="14.5" width="31" height="20" rx="4" ry="4" fill="#fff" stroke="#d5d8e2" stroke-width="1"/>
<text x="1458.1" y="28" font-size="12.3" fill="#555" textLength="22.3" lengthAdjust="spacingAndGlyphs">USD</text>
<clipPath id="tc"><rect x="8" y="748" width="1428" height="30"/></clipPath>
<g font-size="12.8" fill="#555" text-anchor="middle" clip-path="url(#tc)">
<text x="83.1" y="769.2" font-weight="bold">2020</text>
<text x="180.4" y="769.2">Feb</text>
<text x="268.5" y="769.2">Mar</text>
<text x="370.4" y="769.2">Apr</text>
<text x="467.7" y="769.2">May</text>
<text x="560.4" y="769.2">Jun</text>
<text x="662.3" y="769.2">Jul</text>
<text x="764.3" y="769.2">Aug</text>
<text x="861.6" y="769.2">Sep</text>
<text x="958.9" y="769.2">Oct</text>
<text x="1060.8" y="769.2">Nov</text>
<text x="1153.5" y="769.2">Dec</text>
<text x="1255.4" y="769.2" font-weight="bold">2021</text>
<text x="1343.5" y="769.2">Feb</text>
<text x="1431.5" y="769.2">Mar</text>
</g>
<g id="logo">
<path fill="#07384f" d="M1092.3 691.2H1130.4V702.1H1105.2V710.6H1127.9V720.7H1105.2V737.7H1092.3Z"/>
<path fill="#0fb356" fill-rule="evenodd" d="M1158.1 689.9a24.4 24.65 0 1 0 0.01 0Z M1158.4 696.8a10.3 17.75 0 1 1 -0.01 0Z"/>
<path fill="#0fb356" d="M1161.6 709H1189.4L1188.3 712.7H1160.5Z M1159.6 716.8H1187.9L1186.6 721H1158.4Z"/>
<path fill="#07384f" fill-rule="evenodd" d="M1194 691.2H1217.5C1229.5 691.2 1236.2 697.5 1236.2 707C1236.2 714.3 1232.3 719.1 1226.3 721.4L1237.2 737.7H1222.4L1213 723.2H1206.8V737.7H1194Z M1206.8 702.1V713.8H1216.5C1220.8 713.8 1223.3 711.6 1223.3 707.9C1223.3 704.1 1220.7 702.1 1216.4 702.1Z"/>
<path fill="#07384f" d="M1242.3 691.2H1280.5V701.6H1255.3V709.2H1278V719.4H1255.3V727.2H1280.8V737.7H1242.3Z"/>
<path fill="#07384f" d="M1286 691.2H1301.2L1309.4 704.3L1317.7 691.2H1332.5L1316.8 714L1333.2 737.7H1317.9L1309.1 723.9L1300.3 737.7H1285.3L1301.7 714.2Z"/>
<circle cx="1340.6" cy="720.8" r="3.7" fill="#07384f"/>
<g transform="translate(1345.8,724) scale(0.996,1)"><text x="0" y="0" font-size="33.5" font-weight="bold" fill="#07384f" stroke="#07384f" stroke-width="1.5" stroke-linejoin="round">c</text></g>
<g transform="translate(1365.55,724) scale(1.094,1)"><text x="0" y="0" font-size="33.5" font-weight="bold" fill="#07384f" stroke="#07384f" stroke-width="1.5" stroke-linejoin="round">o</text></g>
<g transform="translate(1388.3,724) scale(1.126,1)"><text x="0" y="0" font-size="33.5" font-weight="bold" fill="#07384f" stroke="#07384f" stroke-width="1.5" stroke-linejoin="round">m</text></g>
</g>
</svg></body></html>
